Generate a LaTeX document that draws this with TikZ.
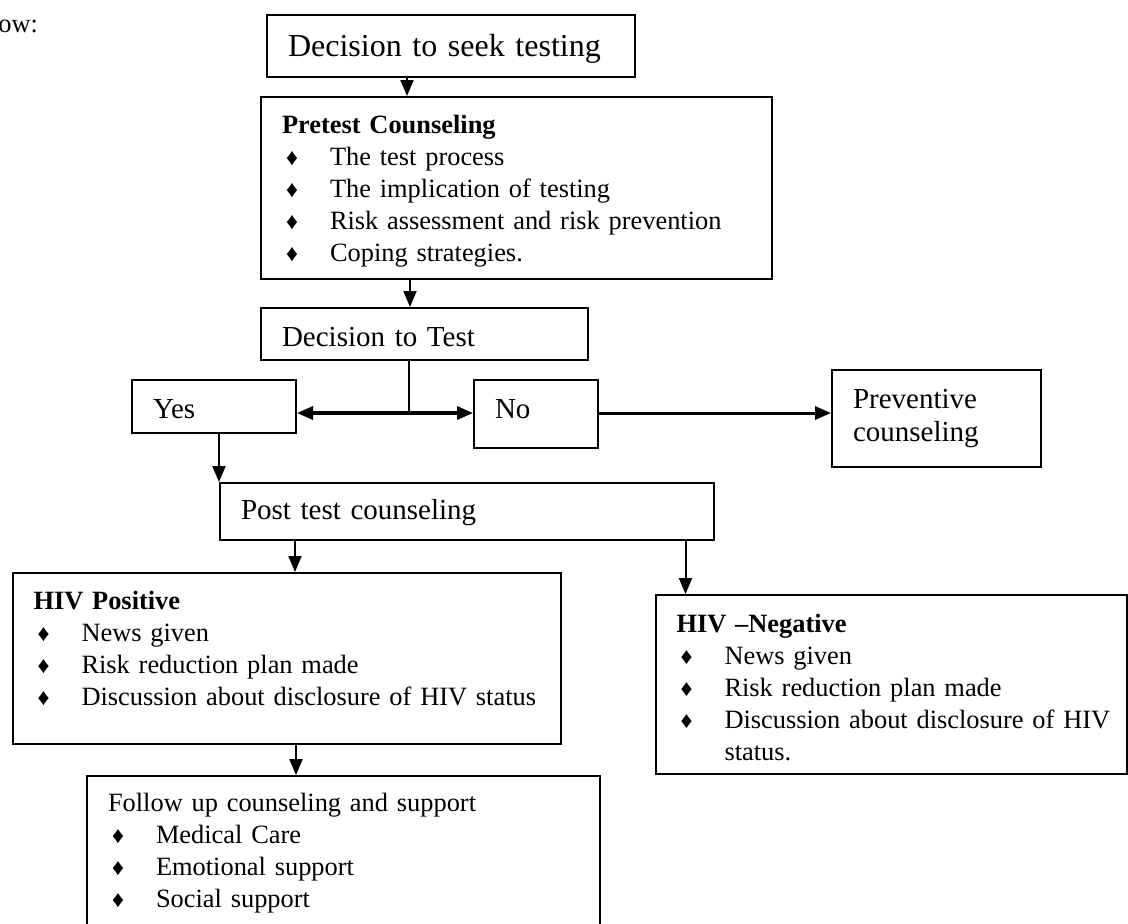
\documentclass[tikz,border=0pt]{standalone}
\usepackage{fontspec}
\setmainfont{Liberation Serif}
\usepackage{pifont}
\usetikzlibrary{arrows.meta,calc}
\newcommand{\bul}[1]{\mbox{\makebox[24pt][l]{\hspace{2pt}{\fontsize{10}{10}\selectfont\ding{169}}}#1}}

\begin{document}
\begin{tikzpicture}[x=0.5pt,y=-0.5pt,>={Triangle[length=8pt,width=6.5pt]},
    body/.style={font=\fontsize{13.2}{16}\selectfont},
    big/.style={font=\fontsize{14.5}{16.5}\selectfont},
    box/.style={draw,line width=1pt,anchor=north west,inner xsep=10.5pt,
                inner ysep=0pt,align=left},
    link/.style={->,line width=1pt}]
  \useasboundingbox (0,0) rectangle (1128,923);
  \clip (0,0) rectangle (1128,923);
  \node[body,anchor=base west,inner sep=0pt] (lead) at (-2,32) {ow:};
  \node[box,font=\fontsize{16}{19}\selectfont,text width=163pt,
        text height=20.5pt,text depth=10.5pt] (seek) at (266,14)
    {Decision to seek testing};
  \node[box,body,text width=234.5pt,text height=18pt,text depth=73pt]
    (pretest) at (260,96)
    {\textbf{Pretest Counseling}\\
     \bul{The test process}\\
     \bul{The implication of testing}\\
     \bul{Risk assessment and risk prevention}\\
     \bul{Coping strategies.}};
  \node[box,big,text width=142.5pt,text height=19pt,text depth=7pt]
    (dtest) at (260,307) {Decision to Test};
  \node[box,big,text width=61pt,text height=19pt,text depth=7.5pt]
    (yes) at (131,379) {Yes};
  \node[box,big,text width=41pt,text height=19pt,text depth=15pt]
    (no) at (473,379) {No};
  \node[box,big,text width=83.5pt,text height=19pt,text depth=29.5pt]
    (prev) at (831,369) {Preventive\\ counseling};
  \node[box,big,text width=226pt,text height=18pt,text depth=10.5pt]
    (post) at (219,482) {Post test counseling};
  \node[box,body,text width=253.25pt,text height=18pt,text depth=67.5pt]
    (pos) at (11.5,572)
    {\textbf{HIV Positive}\\
     \bul{News given}\\
     \bul{Risk reduction plan made}\\
     \bul{Discussion about disclosure of HIV status}};
  \node[box,body,text width=214.75pt,text height=18.5pt,text depth=71pt]
    (neg) at (654.5,594)
    {\textbf{HIV –Negative}\\
     \bul{News given}\\
     \bul{Risk reduction plan made}\\
     \bul{Discussion about disclosure of HIV}\\
     \hspace*{24pt}status.};
  \node[box,body,text width=235.5pt,text height=17.5pt,text depth=61.5pt]
    (follow) at (86,775)
    {Follow up counseling and support\\
     \bul{Medical Care}\\
     \bul{Emotional support}\\
     \bul{Social support}};
  \coordinate (split) at (409,413);
  \coordinate (s4) at ($(neg.north west)+(31,0)$);
  \draw[link] ($(seek.south west)+(141,0)$) coordinate (s1) -- (s1 |- pretest.north);
  \draw[link] ($(pretest.south west)+(150,0)$) coordinate (s2) -- (s2 |- dtest.north);
  \draw[line width=0.65pt] (dtest.south -| split) -- (split);
  \draw[<->,line width=1.6pt] (yes.east |- split) -- (no.west |- split);
  \draw[->,line width=1.5pt] (no.east |- split) -- (prev.west |- split);
  \draw[link] (post.north west |- yes.south) -- (post.north west);
  \draw[link] ($(post.south west)+(76,0)$) coordinate (s3) -- (s3 |- pos.north);
  \draw[link] (post.south -| s4) -- (s4);
  \draw[link] ($(pos.south west)+(284.5,0)$) coordinate (s5) -- (s5 |- follow.north);
\end{tikzpicture}
\end{document}
